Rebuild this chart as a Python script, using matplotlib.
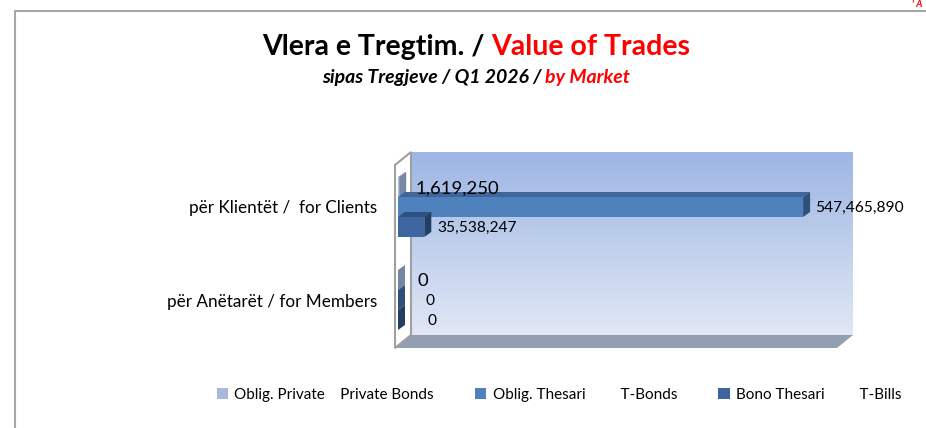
import numpy as np
import matplotlib
matplotlib.use('Agg')
import matplotlib.pyplot as plt
from matplotlib.patches import Polygon

plt.rcParams['font.family'] = ['Lato', 'DejaVu Sans']

# data
categories = ['për Anëtarët / for Members', 'për Klientët /  for Clients']
series_names = ['Oblig. Private', 'Oblig. Thesari', 'Bono Thesari']
series_en = ['Private Bonds', 'T-Bonds', 'T-Bills']
private_bonds = [0, 1619250]
t_bonds = [0, 547465890]
t_bills = [0, 35538247]
values = [private_bonds, t_bonds, t_bills]

front_colors = ['#a7b8dc', '#4f81bd', '#3d66a0']
top_colors = ['#8797b4', '#3e6699', '#2f5080']
side_colors = ['#7787a3', '#2f5078', '#243e62']
# label offsets in px per series, [members, clients]
lab_dx = [[19, 16], [27, 12], [29, 13]]
lab_size = [13.3, 11.2, 11.2]

W, H = 926, 428
fig = plt.figure(figsize=(W / 100, H / 100), dpi=100)

# background decoration axes in pixel coords
bg = fig.add_axes([0, 0, 1, 1], zorder=0)
bg.set_xlim(0, W)
bg.set_ylim(H, 0)
bg.axis('off')

# outer frame
bg.plot([15, 15, W + 5], [H + 5, 11, 11], color='#a6a6a6', lw=1.5)

# back wall gradient
grad = np.linspace(0, 1, 256).reshape(-1, 1)
top_c = np.array([157, 182, 228]) / 255
bot_c = np.array([225, 232, 245]) / 255
img = top_c + (bot_c - top_c) * grad[..., None]
bg.imshow(img, extent=[411, 853, 336, 152], aspect='auto', zorder=1)
# floor
bg.add_patch(Polygon([(395, 348), (837, 348), (853, 335), (411, 335)],
                     closed=True, fc='#949eb3', ec='none', zorder=2))
# side wall
bg.add_patch(Polygon([(395, 165), (411, 152), (411, 335), (395, 348)],
                     closed=True, fc='white', ec='#a0a0a0', lw=1.5, zorder=3))

# bar axes (front plane)
x0_px, x1_px = 398, 842
yt_px, yb_px = 160.5, 346.5
ax = fig.add_axes([x0_px / W, (H - yb_px) / H, (x1_px - x0_px) / W, (yb_px - yt_px) / H],
                  zorder=2)
ax.patch.set_alpha(0)
xmax = 600e6
ax.set_xlim(0, xmax)
ax.set_ylim(-0.5, 1.5)
for s in ax.spines.values():
    s.set_visible(False)
ax.set_xticks([])

px_x = xmax / (x1_px - x0_px)
px_y = 2.0 / (yb_px - yt_px)
dx, dy = 7 * px_x, 5 * px_y

h = 0.215
offs = [h, 0, -h]
ypos = np.arange(len(categories))
handles = []
for i, vals in enumerate(values):
    yy = ypos + offs[i]
    b = ax.barh(yy, vals, height=h, color=front_colors[i], zorder=3)
    handles.append(b)
    for y, v in zip(yy, vals):
        t, bt = y + h / 2, y - h / 2
        ax.add_patch(Polygon([(0, t), (v, t), (v + dx, t + dy), (dx, t + dy)],
                             closed=True, fc=top_colors[i], ec='none', zorder=3))
        ax.add_patch(Polygon([(v, bt), (v, t), (v + dx, t + dy), (v + dx, bt + dy)],
                             closed=True, fc=side_colors[i], ec='none', zorder=3))
    for j, (y, v) in enumerate(zip(yy, vals)):
        ax.annotate(f'{v:,}', (v, y), xytext=(lab_dx[i][j] * 0.72, -1),
                    textcoords='offset points', va='center', ha='left',
                    fontsize=lab_size[i], color='black', zorder=5)

ax.set_yticks(ypos)
ax.set_yticklabels(categories, fontsize=12.3)
ax.tick_params(axis='y', length=0, pad=15)

# legend
labels = [series_names[0] + '    ' + series_en[0],
          series_names[1] + '         ' + series_en[1],
          series_names[2] + '         ' + series_en[2]]
leg = fig.legend(handles, labels, loc='center', bbox_to_anchor=(559 / W, (H - 395) / H),
                 ncol=3, frameon=False, fontsize=11, handlelength=0.75, handleheight=0.75,
                 handletextpad=0.4, columnspacing=2.7)

# titles
fig.canvas.draw()
r = fig.canvas.get_renderer()


def two_color(y, a, b, size, style):
    t1 = fig.text(0, y, a, fontsize=size, fontweight='bold', style=style,
                  color='black', va='center')
    t2 = fig.text(0, y, b, fontsize=size, fontweight='bold', style=style,
                  color='#ff0000', va='center')
    w1 = t1.get_window_extent(r).width
    w2 = t2.get_window_extent(r).width
    start = 476 - (w1 + w2) / 2
    t1.set_x(start / W)
    t2.set_x((start + w1) / W)


two_color((H - 47) / H, 'Vlera e Tregtim. / ', 'Value of Trades', 20.5, 'normal')
two_color((H - 78) / H, 'sipas Tregjeve / Q1 2026 / ', 'by Market', 14, 'italic')

fig.text(912 / W, 1.0, "' A", color='#ff0000', fontsize=7, fontweight='bold',
         style='italic', va='top')

fig.savefig('out.png', dpi=100)
